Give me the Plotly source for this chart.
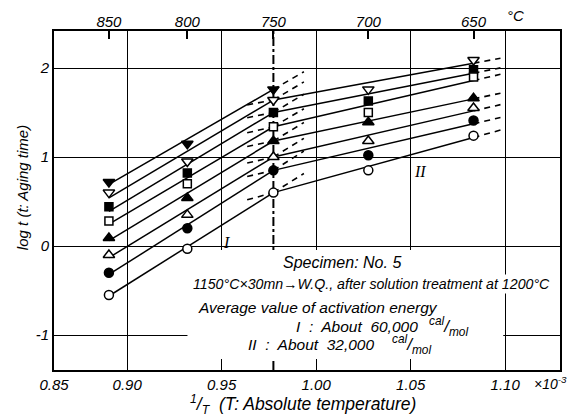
import numpy as np
import plotly.graph_objects as go

# ---------------- data ----------------
TEMPS_C = [850, 800, 750, 700, 650]
INV_T = [1000.0 / (t + 273.15) for t in TEMPS_C]   # 1/T  (x10^-3)

# log t at 850, 800, 750, 700, 650 degC (None = not measured)
LOGT_TRI_DOWN_SOLID = [0.72, 1.15, 1.76, None, None]
LOGT_TRI_DOWN_OPEN = [0.60, 0.95, 1.64, 1.76, 2.09]
LOGT_SQUARE_SOLID = [0.44, 0.82, 1.50, 1.63, 1.98]
LOGT_SQUARE_OPEN = [0.28, 0.70, 1.34, 1.50, 1.90]
LOGT_TRI_UP_SOLID = [0.09, 0.54, 1.18, 1.39, 1.66]
LOGT_TRI_UP_OPEN = [-0.10, 0.35, 1.00, 1.18, 1.55]
LOGT_CIRCLE_SOLID = [-0.30, 0.20, 0.85, 1.02, 1.41]
LOGT_CIRCLE_OPEN = [-0.55, -0.03, 0.60, 0.85, 1.24]

SERIES = [
    (LOGT_TRI_DOWN_SOLID, "triangle-down", True, 10),
    (LOGT_TRI_DOWN_OPEN, "triangle-down", False, 10),
    (LOGT_SQUARE_SOLID, "square", True, 8),
    (LOGT_SQUARE_OPEN, "square", False, 8),
    (LOGT_TRI_UP_SOLID, "triangle-up", True, 10),
    (LOGT_TRI_UP_OPEN, "triangle-up", False, 10),
    (LOGT_CIRCLE_SOLID, "circle", True, 9),
    (LOGT_CIRCLE_OPEN, "circle", False, 9),
]

X_TICKS = [0.90, 0.95, 1.00, 1.05, 1.10]
X_TICK_TEXT = ["0.90", "0.95", "1.00", "1.05", "1.10"]
Y_TICKS = [-1, 0, 1, 2]
Y_TICK_TEXT = ["-1", "0", "1", "2"]

# ---------------- layout constants ----------------
W, H = 567, 416
ML, MR, MT, MB = 54, 5, 31, 46
X_RANGE = [0.8613, 1.1290]
Y_RANGE = [-1.393, 2.416]
EXT_I_END = 0.9935
EXT_II_START = 0.9635
EXT_II_END = 1.0975
FONT = "Liberation Sans"
SERIF = "Liberation Serif"


def px(xp, yp):
    return (xp - ML) / (W - ML - MR), 1 - (yp - MT) / (H - MT - MB)


def px_data(xp, yp):
    fx, fy = px(xp, yp)
    return (X_RANGE[0] + fx * (X_RANGE[1] - X_RANGE[0]),
            Y_RANGE[0] + fy * (Y_RANGE[1] - Y_RANGE[0]))


def anchored_slope(xs, ys, x0, y0):
    xs = np.asarray(xs) - x0
    ys = np.asarray(ys) - y0
    return float(np.sum(xs * ys) / np.sum(xs * xs))


fig = go.Figure()
LINE = dict(color="black", width=1.5)
DASH = dict(color="black", width=1.6, dash="6px,5px")

for vals, sym, filled, size in SERIES:
    x750, y750 = INV_T[2], vals[2]
    # region I (850-750)
    s1 = anchored_slope(INV_T[0:2], vals[0:2], x750, y750)
    fig.add_trace(go.Scatter(x=[INV_T[0], x750], y=[y750 + s1 * (INV_T[0] - x750), y750],
                             mode="lines", line=LINE, showlegend=False, hoverinfo="skip"))
    fig.add_trace(go.Scatter(x=[x750, EXT_I_END], y=[y750, y750 + s1 * (EXT_I_END - x750)],
                             mode="lines", line=DASH, showlegend=False, hoverinfo="skip"))
    # region II (750-650)
    if vals[3] is not None:
        s2 = anchored_slope(INV_T[3:5], vals[3:5], x750, y750)
        fig.add_trace(go.Scatter(x=[x750, INV_T[4]], y=[y750, y750 + s2 * (INV_T[4] - x750)],
                                 mode="lines", line=LINE, showlegend=False, hoverinfo="skip"))
        fig.add_trace(go.Scatter(x=[EXT_II_START, x750], y=[y750 + s2 * (EXT_II_START - x750), y750],
                                 mode="lines", line=DASH, showlegend=False, hoverinfo="skip"))
        y650 = y750 + s2 * (INV_T[4] - x750)
        fig.add_trace(go.Scatter(x=[INV_T[4], EXT_II_END], y=[y650, y650 + s2 * (EXT_II_END - INV_T[4])],
                                 mode="lines", line=DASH, showlegend=False, hoverinfo="skip"))

for vals, sym, filled, size in SERIES:
    xs = [x for x, v in zip(INV_T, vals) if v is not None]
    ys = [v for v in vals if v is not None]
    fig.add_trace(go.Scatter(
        x=xs, y=ys, mode="markers", showlegend=False, hoverinfo="skip",
        marker=dict(symbol=sym, size=size, color="black" if filled else "white",
                    line=dict(color="black", width=1.5))))

# invisible trace for top temperature axis
fig.add_trace(go.Scatter(x=INV_T, y=[None] * len(INV_T), xaxis="x2", mode="markers",
                         showlegend=False, hoverinfo="skip"))

tickfont = dict(family=FONT, size=15, color="black", style="italic")

fig.update_layout(
    width=W, height=H, margin=dict(l=ML, r=MR, t=MT, b=MB),
    paper_bgcolor="white", plot_bgcolor="white",
    xaxis=dict(range=X_RANGE, tickvals=[X_RANGE[0]] + X_TICKS, ticktext=["0.85"] + X_TICK_TEXT,
               showgrid=True, gridcolor="black", gridwidth=1, zeroline=False,
               showline=True, linecolor="black", linewidth=2, mirror=True,
               ticks="", tickfont=tickfont),
    xaxis2=dict(range=X_RANGE, overlaying="x", side="top", tickvals=INV_T,
                ticktext=[str(t) for t in TEMPS_C], ticks="inside", ticklen=8,
                tickcolor="black", tickwidth=1.5, showgrid=False, zeroline=False,
                tickfont=tickfont),
    yaxis=dict(range=Y_RANGE, tickvals=Y_TICKS, ticktext=Y_TICK_TEXT,
               showgrid=True, gridcolor="black", gridwidth=1, zeroline=False,
               showline=True, linecolor="black", linewidth=2, mirror=True,
               ticks="", tickfont=tickfont),
)

# 750 degC dash-dot reference line and white text block (between grid and traces)
fig.add_shape(type="line", x0=INV_T[2], x1=INV_T[2], y0=Y_RANGE[0], y1=Y_RANGE[1],
              line=dict(color="black", width=2, dash="dashdot"), layer="between")
bx0, by0 = px_data(188, 250)
bx1, by1 = px_data(505, 359)
fig.add_shape(type="rect", x0=bx0, x1=bx1, y0=by1, y1=by0,
              fillcolor="white", line=dict(width=0), layer="between")


def ann(xp, yp, text, size, xanchor="left", family=FONT, bg=None, angle=0):
    x, y = px(xp, yp)
    d = dict(x=x, y=y, xref="paper", yref="paper", text=text, showarrow=False,
             xanchor=xanchor, yanchor="middle", textangle=angle,
             font=dict(family=family, size=size, color="black", style="italic"))
    if bg:
        d["bgcolor"] = bg
    fig.add_annotation(**d)


ann(517, 16, "°C", 15, xanchor="center")
ann(552, 383, "×10<sup>-3</sup>", 14, xanchor="center")
ann(304, 404, "<sup>1</sup>/<sub>T</sub>  (T: Absolute temperature)", 17.5, xanchor="center")
ann(22, 188, "log t (t: Aging time)", 15, xanchor="center", angle=-90)
ann(227, 242, "I", 16, xanchor="center", family=SERIF)
ann(421, 171, "II", 16, xanchor="center", family=SERIF)
ann(282, 262, "Specimen: No. 5", 16)
ann(192, 284, "1150°C×30mn→W.Q., after solution treatment at 1200°C", 14.2, bg="white")
ann(197, 307, "Average value of activation energy", 15.5)

# activation energy rows
ann(295, 326, "I  :  About  60,000", 15.5)
ann(428, 326, "<sup>cal</sup>/<sub>mol</sub>", 17)
ann(247, 344, "II  :  About  32,000", 15.5)
ann(391, 344, "<sup>cal</sup>/<sub>mol</sub>", 17)

fig.write_html("out.html")
